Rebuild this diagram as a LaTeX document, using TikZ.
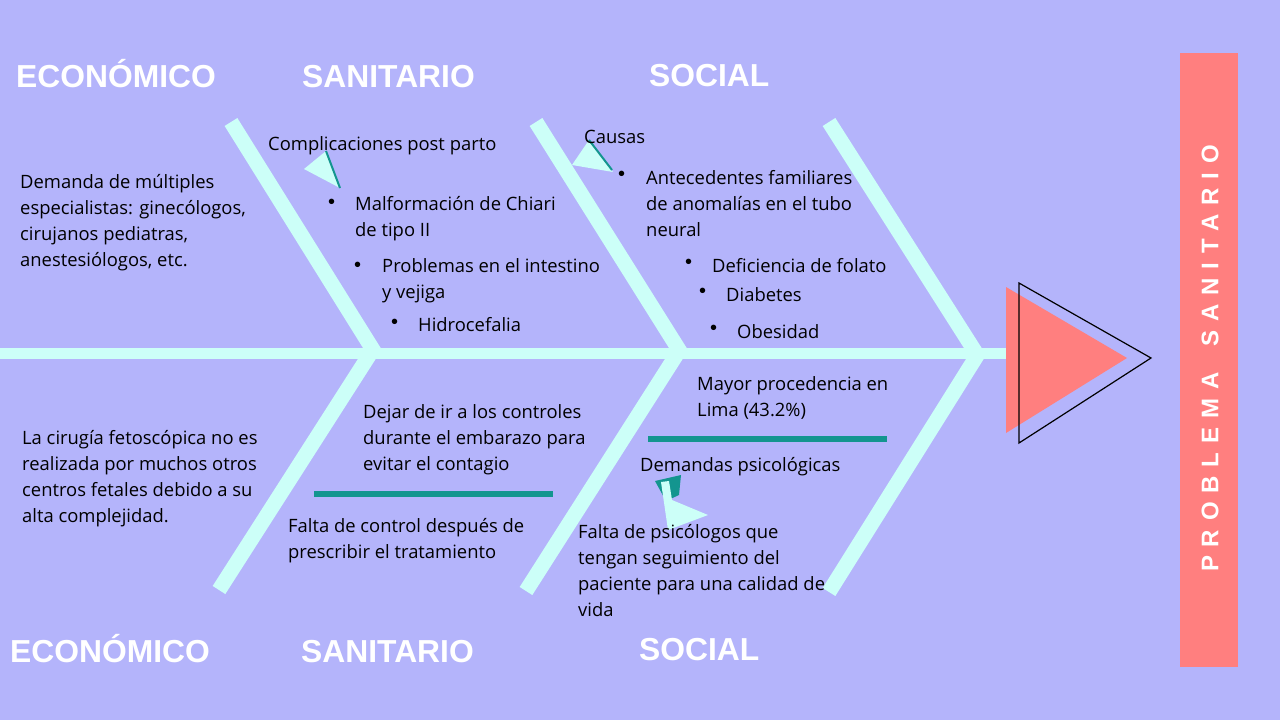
\documentclass[tikz,border=0pt]{standalone}
\usepackage{fontspec}
\setmainfont{Open Sans}
\newfontfamily\headfont{Liberation Sans}
\newfontfamily\spacedfont[LetterSpace=37]{Liberation Sans}
\usetikzlibrary{positioning}
\definecolor{fishBack}{HTML}{B4B4FB}
\definecolor{fishBone}{HTML}{CCFFF8}
\definecolor{fishTeal}{HTML}{13958F}
\definecolor{fishRed}{HTML}{FF7F7F}
\tikzset{
  spine/.style={line width=11pt, draw=fishBone},
  bone/.style={line width=15pt, draw=fishBone},
  teal bar/.style={line width=6pt, draw=fishTeal},
  head label/.style={font=\headfont\bfseries\fontsize{31.8}{32}\selectfont,
    text=white, anchor=base west, inner sep=0pt},
  cause text/.style={font=\fontsize{18.4}{26}\selectfont, text=black,
    align=left, anchor=west, inner sep=0pt},
  dot/.style={font=\headfont\fontsize{20}{26}\selectfont, anchor=west, inner sep=0pt},
  flag/.style={fill=fishBone},
  flag edge/.style={draw=fishTeal, line width=2pt}
}

\begin{document}
\begin{tikzpicture}[x=1pt, y=-1pt]
  \useasboundingbox (0,0) rectangle (1280,720);
  \fill[fishBack] (0,0) rectangle (1280,720);

  % spine and bones
  \coordinate (tail) at (0,353.5);
  \coordinate (neck) at (1006,353.5);
  \draw[spine] (tail) -- (neck);
  \draw[bone] (231,122) -- (375,353);
  \draw[bone] (536,122) -- (681,353);
  \draw[bone] (829,122) -- (976,353);
  \draw[bone] (370,354) -- (219,590);
  \draw[bone] (677,354) -- (526,591);
  \draw[bone] (978,354) -- (829,592);
  \draw[teal bar] (314,494) -- (553,494);
  \draw[teal bar] (648,439) -- (887,439);

  % head
  \fill[fishRed] (1006,287) -- (1006,433) -- (1127,358) -- cycle;
  \draw[black, line width=1.2pt] (1019,283) -- (1019,443) -- (1151,358) -- cycle;
  \node[fill=fishRed, minimum width=58pt, minimum height=614pt, inner sep=0pt]
    (problem) at (1209,360) {};
  \node[rotate=90, text=white, inner sep=0pt,
    font=\spacedfont\bfseries\fontsize{24}{24}\selectfont]
    (problemText) at (1210,358.5) {PROBLEMA\hspace{26pt}SANITARIO};

  % small flags
  \fill[flag] (304,169) -- (326,151) -- (340,188) -- cycle;
  \draw[flag edge] (326,151) -- (340,188);
  \fill[flag] (572,165) -- (589,140) -- (613,172) -- cycle;
  \draw[flag edge] (589,140) -- (612,170);
  \fill[fishTeal] (655,481) -- (681,475) -- (679,495) -- (666,501) -- cycle;
  \fill[flag] (661,482) -- (669,481) -- (672,500) -- (708,515) -- (668,530) -- cycle;

  % category labels
  \node[head label] (ecoTop) at (16,87) {ECONÓMICO};
  \node[head label] (sanTop) at (302,87) {SANITARIO};
  \node[head label] (socTop) at (649,86) {SOCIAL};
  \node[head label] (ecoBot) at (10,662) {ECONÓMICO};
  \node[head label] (sanBot) at (301,662) {SANITARIO};
  \node[head label] (socBot) at (639,660) {SOCIAL};

  % upper causes
  \node[cause text] (demanda) at (20,223) {Demanda de múltiples\\especialistas: ginecólogos,\\cirujanos pediatras,\\anestesiólogos, etc.};
  \node[cause text] (complic) at (268,146) {Complicaciones post parto};
  \node[dot] (b1) at (328,204) {•};
  \node[cause text] (chiari) at (355,219) {Malformación de Chiari\\de tipo II};
  \node[dot] (b2) at (354,267) {•};
  \node[cause text] (intestino) at (382,281) {Problemas en el intestino\\y vejiga};
  \node[dot] (b3) at (391,324) {•};
  \node[cause text] (hidro) at (418,325) {Hidrocefalia};
  \node[cause text] (causas) at (584,137) {Causas};
  \node[dot] (b4) at (618,176) {•};
  \node[cause text] (antec) at (646,204) {Antecedentes familiares\\de anomalías en el tubo\\neural};
  \node[dot] (b5) at (685,264) {•};
  \node[cause text] (folato) at (712,266) {Deficiencia de folato};
  \node[dot] (b6) at (699,293) {•};
  \node[cause text] (diabetes) at (726,295) {Diabetes};
  \node[dot] (b7) at (710,330) {•};
  \node[cause text] (obesidad) at (737,332) {Obesidad};

  % lower causes
  \node[cause text] (cirugia) at (22,479) {La cirugía fetoscópica no es\\realizada por muchos otros\\centros fetales debido a su\\alta complejidad.};
  \node[cause text] (dejar) at (363,440) {Dejar de ir a los controles\\durante el embarazo para\\evitar el contagio};
  \node[cause text] (control) at (288,541) {Falta de control después de\\prescribir el tratamiento};
  \node[cause text] (lima) at (697,398) {Mayor procedencia en\\Lima (43.2\%)};
  \node[cause text] (psico) at (640,467) {Demandas psicológicas};
  \node[cause text] (falta) at (578,571) {Falta de psicólogos que\\tengan seguimiento del\\paciente para una calidad de\\vida};
\end{tikzpicture}
\end{document}
